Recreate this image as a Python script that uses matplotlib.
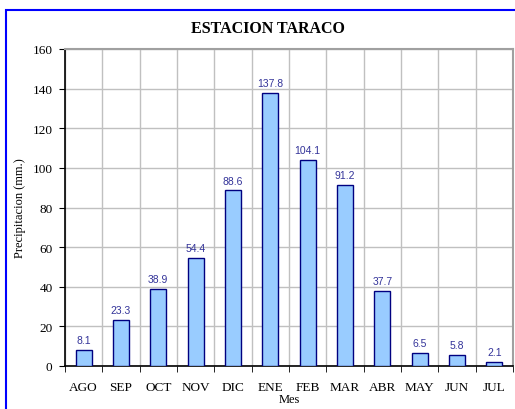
import numpy as np
import matplotlib.pyplot as plt
from matplotlib.patches import Rectangle

months = ['AGO', 'SEP', 'OCT', 'NOV', 'DIC', 'ENE', 'FEB', 'MAR', 'ABR', 'MAY', 'JUN', 'JUL']
precip = [8.1, 23.3, 38.9, 54.4, 88.6, 137.8, 104.1, 91.2, 37.7, 6.5, 5.8, 2.1]

serif = 'Liberation Serif'

fig = plt.figure(figsize=(5.15, 4.1), dpi=100)
ax = fig.add_axes([65/515, 1 - 367/410, (513 - 65)/515, (367 - 50)/410])

x = np.arange(len(months))
bars = ax.bar(x, precip, width=0.43, color='#99CCFF', edgecolor='#000080', linewidth=1.0, zorder=3)
for xi, v in zip(x, precip):
    ax.text(xi, v + 2.5, '%.1f' % v, ha='center', va='bottom', fontsize=7.5,
            family='Liberation Sans', color='#333399')

ax.set_xlim(-0.5, len(months) - 0.5)
ax.set_ylim(0, 160)
ax.set_yticks(np.arange(0, 161, 20))
ax.set_yticklabels([str(v) for v in range(0, 161, 20)], family=serif, fontsize=9.5)
ax.set_xticks(x)
ax.set_xticklabels(months, family=serif, fontsize=9.5)
ax.set_xticks(np.arange(-0.5, len(months)), minor=True)
ax.tick_params(axis='x', which='major', length=0, pad=11)
ax.tick_params(axis='x', which='minor', length=4, direction='out', color='black')
ax.tick_params(axis='y', length=4, direction='out', pad=5)

ax.grid(True, axis='y', which='major', color='#C0C0C0', linewidth=1.0, zorder=0)
ax.grid(True, axis='x', which='minor', color='#C0C0C0', linewidth=1.0, zorder=0)
ax.set_axisbelow(True)

ax.spines['left'].set_color('black')
ax.spines['bottom'].set_color('black')
ax.spines['left'].set_linewidth(1.2)
ax.spines['bottom'].set_linewidth(1.2)
ax.spines['top'].set_color('#A0A0A0')
ax.spines['right'].set_color('#A0A0A0')
ax.spines['top'].set_linewidth(1.5)
ax.spines['right'].set_linewidth(1.5)

ax.set_ylabel('Precipitacion (mm.)', family=serif, fontsize=9, labelpad=5)
ax.set_xlabel('Mes', family=serif, fontsize=9, labelpad=0)
fig.text(268/515, 1 - 29/410, 'ESTACION TARACO', ha='center', va='center',
         family=serif, fontsize=11.5, fontweight='bold')

border = Rectangle((6/515, -0.1), 1.0, 1 - 11/410 + 0.1, transform=fig.transFigure,
                   fill=False, edgecolor='#0000FF', linewidth=1.5, clip_on=False)
fig.patches.append(border)

fig.savefig('out.png', dpi=100)
